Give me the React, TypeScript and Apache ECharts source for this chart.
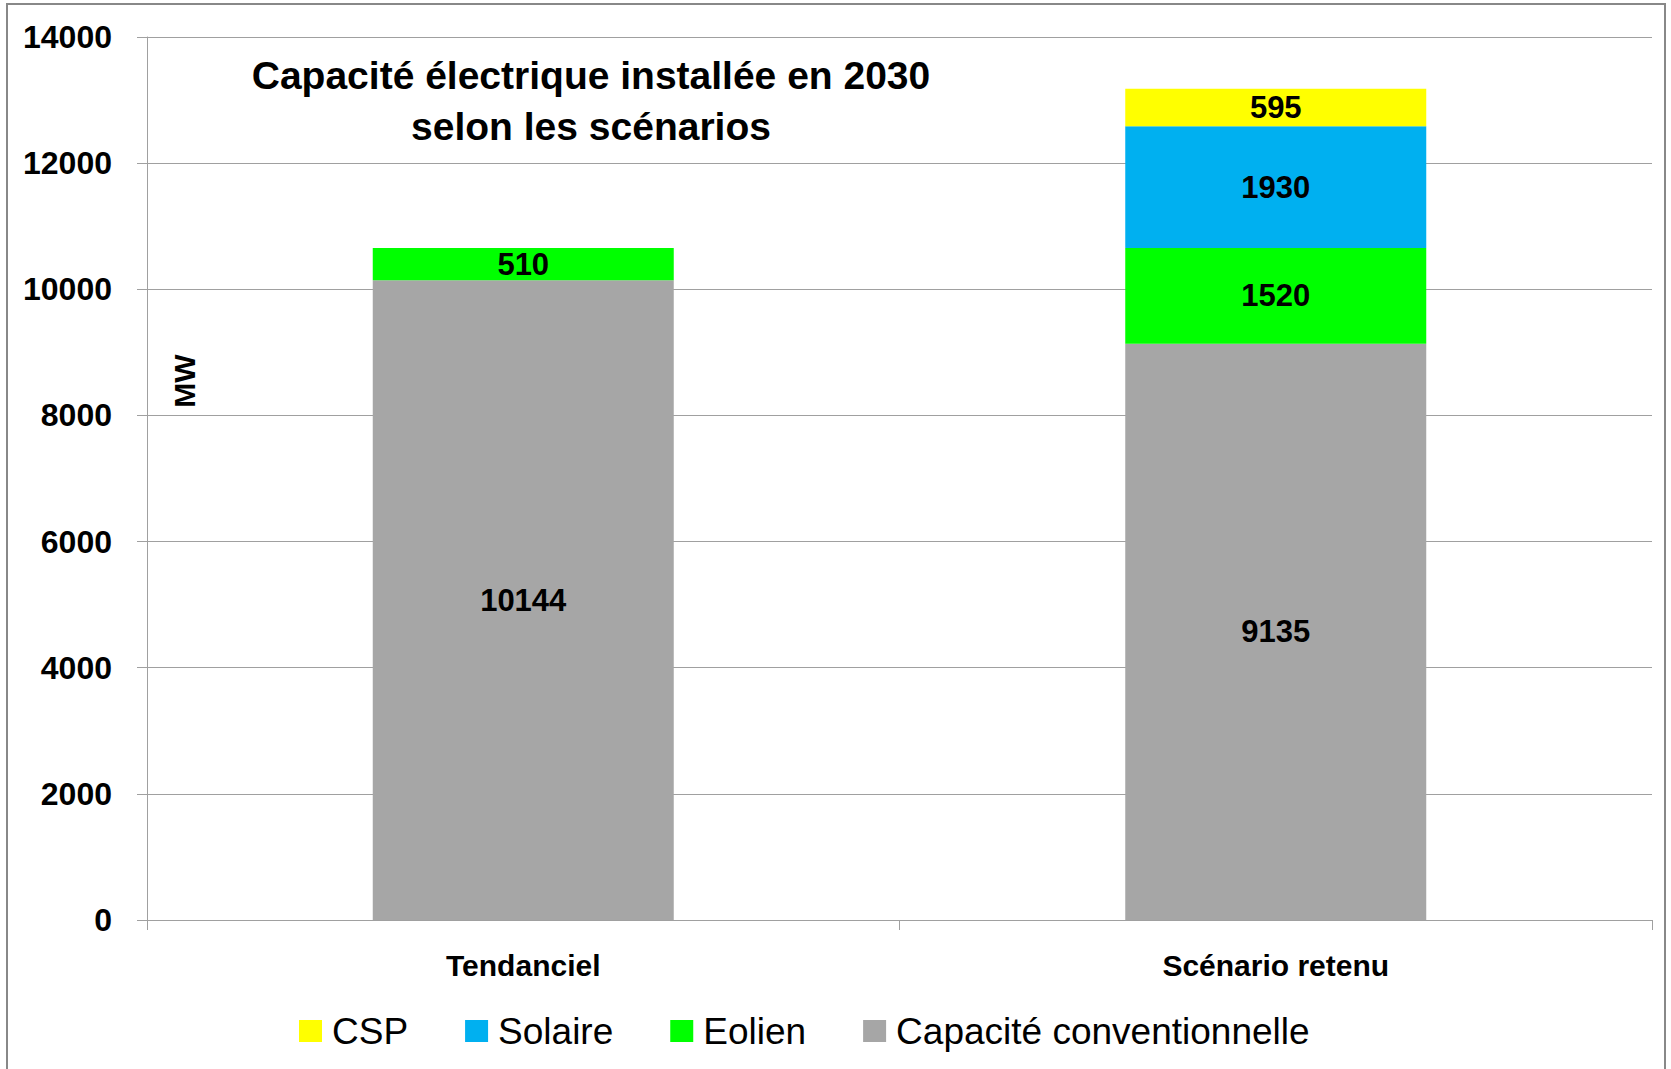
import React, { useEffect, useRef } from "react";
import * as echarts from "echarts";

const categories = ["Tendanciel", "Scénario retenu"];
const conventionnelle = [10144, 9135];
const eolien = [510, 1520];
const solaire: (number | null)[] = [null, 1930];
const csp: (number | null)[] = [null, 595];
const legendOrder = ["CSP", "Solaire", "Eolien", "Capacité conventionnelle"];
const yTicks = { min: 0, max: 14000, interval: 2000 };

const FONT = "Liberation Sans";

export default function App() {
  const ref = useRef<HTMLDivElement>(null);
  useEffect(() => {
    if (!ref.current) return;
    const chart = echarts.init(ref.current, undefined, { renderer: "svg" });
    const label = {
      show: true,
      position: "inside",
      color: "#000",
      fontFamily: FONT,
      fontWeight: "bold",
      fontSize: 31,
    };
    const mk = (name: string, data: (number | null)[], color: string) => ({
      name,
      type: "bar",
      stack: "total",
      data,
      barWidth: 301,
      itemStyle: { color },
      label,
    });
    chart.setOption({
      animation: false,
      backgroundColor: "#fff",
      textStyle: { fontFamily: FONT },
      grid: { left: 147, top: 37, right: 19, bottom: 149, containLabel: false },
      legend: {
        data: legendOrder,
        left: 294,
        top: 1006,
        itemWidth: 23,
        itemHeight: 22,
        itemGap: 57,
        icon: "rect",
        textStyle: {
          fontFamily: FONT,
          fontSize: 37,
          color: "#000",
          lineHeight: 40,
          padding: [0, 0, 0, 5],
        },
      },
      xAxis: {
        type: "category",
        data: categories,
        axisLine: { show: true, lineStyle: { color: "#a0a0a0", width: 1 } },
        axisTick: { show: true, length: 10, alignWithLabel: false, lineStyle: { color: "#a0a0a0" } },
        axisLabel: { margin: 30, color: "#000", fontFamily: FONT, fontWeight: "bold", fontSize: 30 },
      },
      yAxis: {
        type: "value",
        min: yTicks.min,
        max: yTicks.max,
        interval: yTicks.interval,
        axisLine: { show: true, lineStyle: { color: "#a0a0a0", width: 1 } },
        axisTick: { show: true, length: 10, lineStyle: { color: "#a0a0a0" } },
        splitLine: { show: true, lineStyle: { color: "#a0a0a0", width: 1 } },
        axisLabel: {
          margin: 35,
          color: "#000",
          fontFamily: FONT,
          fontWeight: "bold",
          fontSize: 32,
          formatter: (v: number) => String(v),
        },
      },
      graphic: [
        {
          type: "rect",
          shape: { x: 7, y: 4, width: 1658, height: 1080 },
          style: { fill: "none", stroke: "#888", lineWidth: 2 },
          silent: true,
          z: 100,
        },
        {
          type: "text",
          x: 591,
          y: 50,
          style: {
            text: "Capacité électrique installée en 2030\nselon les scénarios",
            textAlign: "center",
            textVerticalAlign: "top",
            fontFamily: FONT,
            fontWeight: "bold",
            fontSize: 39,
            lineHeight: 51,
            fill: "#000",
          },
        },
        {
          type: "text",
          x: 184,
          y: 381,
          rotation: Math.PI / 2,
          style: {
            text: "MW",
            textAlign: "center",
            textVerticalAlign: "middle",
            fontFamily: FONT,
            fontWeight: "bold",
            fontSize: 30,
            fill: "#000",
          },
        },
      ],
      series: [
        mk("Capacité conventionnelle", conventionnelle, "#a6a6a6"),
        mk("Eolien", eolien, "#00ff00"),
        mk("Solaire", solaire, "#00b0f0"),
        mk("CSP", csp, "#ffff00"),
      ],
    });
    return () => chart.dispose();
  }, []);
  return (
    <div
      ref={ref}
      style={{ position: "absolute", left: 0, top: 0, width: 1671, height: 1069 }}
    />
  );
}
